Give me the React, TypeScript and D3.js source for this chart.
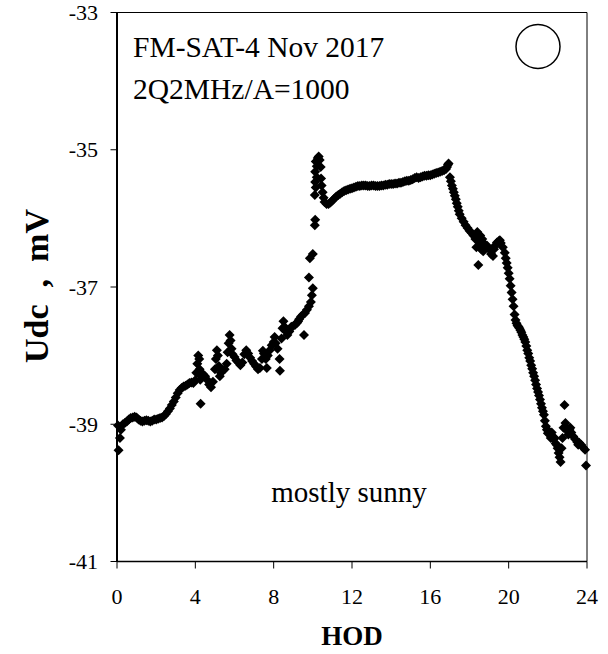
import React from "react";
import * as d3 from "d3";

const xTicks = [0, 4, 8, 12, 16, 20, 24];
const yTicks = [-41, -39, -37, -35, -33];

const morning: [number, number][] = [
  [0.05,-39.02],[0.08,-39.38],[0.15,-39.2],[0.2,-39.08],[0.3,-39.0],[0.4,-38.98],[0.5,-38.96],[0.6,-38.93],[0.7,-38.91],[0.8,-38.9],[0.9,-38.89],[1.0,-38.9],[1.1,-38.93],[1.2,-38.95],[1.3,-38.96],[1.4,-38.95],[1.5,-38.94],[1.6,-38.95],[1.7,-38.96],[1.8,-38.95],[1.9,-38.93],[2.0,-38.93],[2.1,-38.92],[2.2,-38.91],[2.3,-38.9],[2.4,-38.88],[2.5,-38.85],[2.6,-38.81],[2.7,-38.77],[2.8,-38.72],[2.9,-38.67],[3.0,-38.61],[3.1,-38.55],[3.2,-38.5],[3.3,-38.47],[3.4,-38.45],[3.5,-38.44],[3.6,-38.42],[3.7,-38.4],[3.8,-38.39],[3.9,-38.4],[4.0,-38.36],[4.05,-38.25],[4.1,-38.12],[4.15,-38.0],[4.2,-38.05],[4.22,-38.2],[4.25,-38.35],[4.27,-38.7],[4.3,-38.3],[4.4,-38.27],[4.5,-38.3],[4.6,-38.35],[4.7,-38.42],[4.8,-38.46],[4.9,-38.38],[5.0,-38.2],[5.05,-38.05],[5.1,-37.92],[5.15,-38.0],[5.2,-38.15],[5.25,-38.3],[5.3,-38.25],[5.4,-38.22],[5.5,-38.2],[5.6,-38.12],[5.65,-37.95],[5.7,-37.82],[5.75,-37.7],[5.8,-37.78],[5.85,-37.9],[5.9,-37.98],[6.0,-38.02],[6.1,-38.07],[6.2,-38.1],[6.3,-38.14],[6.4,-38.1],[6.5,-37.98],[6.6,-37.92],[6.7,-37.97],[6.8,-38.03],[6.9,-38.08],[7.0,-38.12],[7.1,-38.16],[7.2,-38.2],[7.3,-38.18],[7.4,-38.05],[7.45,-37.93],[7.5,-37.97],[7.6,-38.05],[7.65,-38.18],[7.7,-38.0],[7.8,-37.92],[7.9,-37.85],[8.0,-37.8],[8.05,-37.73],[8.1,-37.82],[8.2,-37.9],[8.3,-38.05],[8.32,-38.22],[8.4,-37.75],[8.45,-37.6],[8.5,-37.5],[8.55,-37.58],[8.6,-37.64],[8.7,-37.7],[8.8,-37.65],[8.9,-37.58],[9.0,-37.57],[9.1,-37.55],[9.2,-37.52],[9.25,-37.5],[9.3,-37.47],[9.4,-37.43],[9.5,-37.4],[9.55,-37.7],[9.6,-37.38],[9.7,-37.33],[9.8,-37.28],[9.9,-37.22],[9.95,-37.12],[10.0,-37.02]
];

const rise: [number, number][] = [
  [9.8,-36.86],[9.85,-36.58],[10.0,-36.52],[10.1,-36.1],[10.12,-36.02],[10.1,-35.66],[10.15,-35.55],[10.12,-35.47],[10.2,-35.4],[10.12,-35.32],[10.2,-35.24],[10.15,-35.17],[10.25,-35.12],[10.3,-35.1],[10.35,-35.15],[10.4,-35.25],[10.42,-35.42],[10.45,-35.52],[10.5,-35.62],[10.55,-35.7],[10.6,-35.76],[10.7,-35.79],[10.8,-35.79]
];

const plateau: [number, number][] = [
  [10.9,-35.77],[11.0,-35.74],[11.1,-35.71],[11.2,-35.68],[11.3,-35.66],[11.4,-35.64],[11.5,-35.62],[11.6,-35.6],[11.7,-35.59],[11.8,-35.58],[11.9,-35.57],[12.0,-35.56],[12.1,-35.55],[12.2,-35.54],[12.3,-35.53],[12.4,-35.53],[12.5,-35.52],[12.6,-35.52],[12.7,-35.52],[12.8,-35.53],[12.9,-35.53],[13.0,-35.52],[13.1,-35.52],[13.2,-35.53],[13.3,-35.53],[13.4,-35.53],[13.5,-35.52],[13.6,-35.52],[13.7,-35.51],[13.8,-35.51],[13.9,-35.5],[14.0,-35.5],[14.1,-35.5],[14.2,-35.49],[14.3,-35.49],[14.4,-35.48],[14.5,-35.48],[14.6,-35.47],[14.7,-35.46],[14.8,-35.45],[14.9,-35.45],[15.0,-35.44],[15.1,-35.43],[15.2,-35.41],[15.3,-35.4],[15.4,-35.41],[15.5,-35.4],[15.6,-35.39],[15.7,-35.38],[15.8,-35.38],[15.9,-35.37],[16.0,-35.37],[16.1,-35.36],[16.2,-35.35],[16.3,-35.34],[16.4,-35.33],[16.5,-35.32],[16.6,-35.31],[16.7,-35.3],[16.8,-35.28],[16.85,-35.25],[16.9,-35.22],[16.93,-35.2]
];

const decline: [number, number][] = [
  [17.0,-35.4],[17.05,-35.46],[17.1,-35.52],[17.15,-35.57],[17.2,-35.62],[17.25,-35.67],[17.3,-35.72],[17.35,-35.78],[17.4,-35.83],[17.45,-35.89],[17.5,-35.94],[17.6,-36.0],[17.7,-36.05],[17.8,-36.1],[17.9,-36.14],[18.0,-36.18],[18.1,-36.21],[18.2,-36.25],[18.3,-36.3],[18.35,-36.42],[18.4,-36.2],[18.45,-36.68],[18.5,-36.35],[18.55,-36.25],[18.6,-36.45],[18.65,-36.3],[18.7,-36.48],[18.8,-36.38],[18.9,-36.4],[19.0,-36.45],[19.1,-36.52],[19.2,-36.55],[19.25,-36.45],[19.3,-36.4],[19.4,-36.35],[19.5,-36.33],[19.55,-36.32],[19.6,-36.36],[19.7,-36.42],[19.8,-36.5],[19.85,-36.58],[19.9,-36.65],[19.95,-36.72],[20.0,-36.8],[20.05,-36.88],[20.1,-36.98],[20.15,-37.08],[20.2,-37.18],[20.25,-37.28],[20.3,-37.4],[20.35,-37.48],[20.4,-37.53],[20.45,-37.56],[20.5,-37.58],[20.55,-37.6],[20.6,-37.63],[20.65,-37.66],[20.7,-37.7],[20.75,-37.73],[20.8,-37.76],[20.85,-37.8],[20.9,-37.86],[20.95,-37.92],[21.0,-37.97],[21.05,-38.03],[21.1,-38.08],[21.15,-38.14],[21.2,-38.19],[21.25,-38.25],[21.3,-38.3],[21.35,-38.36],[21.4,-38.42],[21.45,-38.48],[21.5,-38.53],[21.55,-38.58],[21.6,-38.64],[21.65,-38.7],[21.7,-38.76],[21.75,-38.81],[21.8,-38.86],[21.85,-38.95],[21.9,-39.03],[21.95,-39.08],[22.0,-39.13],[22.05,-39.1],[22.1,-39.15],[22.15,-39.2],[22.2,-39.12],[22.25,-39.18],[22.3,-39.22],[22.35,-39.2],[22.4,-39.28],[22.45,-39.3],[22.5,-39.35],[22.55,-39.42],[22.6,-39.48],[22.65,-39.55],[22.7,-39.35],[22.75,-39.2],[22.8,-39.05],[22.85,-38.72],[22.9,-38.98],[22.95,-39.05],[23.0,-39.1],[23.05,-39.15],[23.1,-39.08],[23.15,-39.05],[23.2,-39.12],[23.3,-39.18],[23.4,-39.22],[23.5,-39.26],[23.55,-39.3],[23.6,-39.27],[23.7,-39.3],[23.8,-39.34],[23.9,-39.37],[23.95,-39.6]
];

const W = 608;
const H = 654;
const L = 117, R = 587, T = 12.5, B = 561.5;
const FONT = '"Liberation Serif", "Times New Roman", serif';

export default function App() {
  const x = d3.scaleLinear().domain([0, 24]).range([L, R]);
  const y = d3.scaleLinear().domain([-41, -33]).range([B, T]);
  const all = [...morning, ...rise, ...plateau, ...decline];
  const sym = d3.symbol().type(d3.symbolSquare).size(50)() as string;

  return (
    <svg width={W} height={H} style={{ position: "absolute", left: 0, top: 0, background: "#fff" }} fontFamily={FONT}>
      <rect x={0} y={0} width={W} height={H} fill="#fff" />
      {/* frame */}
      <line x1={L} y1={T} x2={R} y2={T} stroke="#000" strokeWidth={1} />
      <line x1={R} y1={T} x2={R} y2={B} stroke="#000" strokeWidth={1} />
      <line x1={L} y1={B} x2={R} y2={B} stroke="#000" strokeWidth={1.5} />
      <line x1={L} y1={T} x2={L} y2={B} stroke="#000" strokeWidth={2} />
      {/* y ticks */}
      {yTicks.map((t) => (
        <g key={"y" + t}>
          <line x1={L - 6.5} x2={L} y1={y(t)} y2={y(t)} stroke="#000" strokeWidth={1} />
          <text x={98} y={y(t) + 7.5} textAnchor="end" fontSize={22} fill="#000">{t}</text>
        </g>
      ))}
      {/* x ticks */}
      {xTicks.map((t) => (
        <g key={"x" + t}>
          <line x1={x(t)} x2={x(t)} y1={B} y2={B + 7} stroke="#000" strokeWidth={1} />
          <text x={x(t)} y={604} textAnchor="middle" fontSize={22} fill="#000">{t}</text>
        </g>
      ))}
      {/* points */}
      {all.map((d, i) => (
        <path key={i} d={sym} transform={`translate(${x(d[0])},${y(d[1])}) rotate(45)`} fill="#000" />
      ))}
      {/* annotations */}
      <text x={133} y={57} fontSize={29.5} fill="#000">FM-SAT-4 Nov 2017</text>
      <text x={133} y={99} fontSize={29.5} fill="#000">2Q2MHz/A=1000</text>
      <circle cx={538} cy={46.5} r={22} fill="none" stroke="#000" strokeWidth={1.5} />
      <text x={349} y={502} textAnchor="middle" fontSize={29} fill="#000">mostly sunny</text>
      <text x={352} y={645} textAnchor="middle" fontSize={27} fontWeight="bold" fill="#000">HOD</text>
      <text transform={`translate(48,286) rotate(-90)`} textAnchor="middle" fontSize={34} fontWeight="bold" fill="#000" style={{ whiteSpace: "pre" }}>{"Udc  ,  mV"}</text>
    </svg>
  );
}
